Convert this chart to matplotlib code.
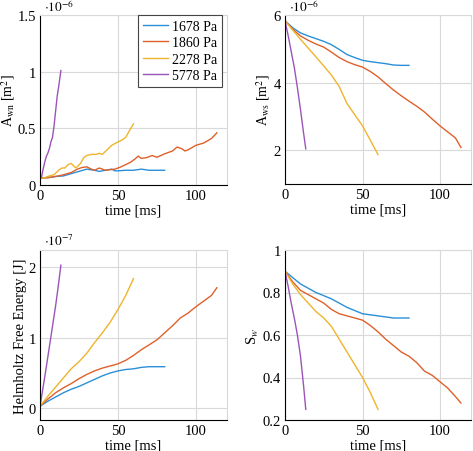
import matplotlib
matplotlib.use("Agg")
import matplotlib.pyplot as plt
import numpy as np

plt.rcParams['font.family'] = ['Liberation Serif', 'DejaVu Serif']
plt.rcParams['mathtext.fontset'] = 'stix'
plt.rcParams['font.size'] = 10.5

labels = ['1678 Pa', '1860 Pa', '2278 Pa', '5778 Pa']
colors = ['#2b8fd8', '#e0602a', '#eeb42c', '#9b55b8']

# time axes (ms)
t_1678 = [0, 5, 10, 15, 20, 25, 30, 35, 40, 45, 50, 55, 60, 65, 70, 75, 80]
t_1860 = [0, 5, 10, 15, 20, 25, 30, 35, 40, 45, 50, 55, 60, 65, 70, 75, 80, 85, 90, 95, 100, 105, 110, 113.5]
t_2278 = [0, 5, 10, 15, 20, 25, 30, 35, 40, 45, 50, 55, 60]
t_5778 = [0, 2, 4, 6, 8, 10, 12, 13.4]

# Awn (x 1e-6 m^2)
awn_t_1678 = [0, 5, 10, 15, 20, 25, 30, 35, 38, 42, 46, 48, 50, 55, 60, 65, 70, 75, 80]
awn_1678 = [0.06, 0.065, 0.075, 0.08, 0.1, 0.12, 0.14, 0.13, 0.12, 0.13, 0.14, 0.125, 0.125, 0.13, 0.13, 0.14, 0.13, 0.13, 0.13]
awn_t_1860 = [0, 5, 10, 15, 20, 24, 27, 30, 33, 35, 38, 42, 48, 52, 55, 58, 61, 63, 65, 68, 72, 75, 80, 85, 88, 91, 93, 95, 100, 105, 110, 113.5]
awn_1860 = [0.06, 0.065, 0.075, 0.09, 0.11, 0.14, 0.155, 0.16, 0.14, 0.13, 0.15, 0.13, 0.14, 0.16, 0.18, 0.20, 0.23, 0.255, 0.235, 0.24, 0.26, 0.245, 0.275, 0.30, 0.335, 0.32, 0.30, 0.31, 0.35, 0.37, 0.41, 0.46]
awn_t_2278 = [0, 3, 6, 9, 12, 14, 16, 18, 20, 23, 26, 28, 30, 33, 36, 38, 40, 43, 46, 50, 53, 55, 57, 60]
awn_2278 = [0.06, 0.065, 0.08, 0.09, 0.13, 0.15, 0.15, 0.18, 0.19, 0.15, 0.19, 0.24, 0.26, 0.27, 0.27, 0.28, 0.27, 0.31, 0.35, 0.38, 0.40, 0.42, 0.47, 0.54]
awn_t_5778 = [0, 1, 2, 3, 4, 5, 6, 7, 8, 9, 10, 11, 12, 13.4]
awn_5778 = [0.06, 0.07, 0.14, 0.2, 0.25, 0.28, 0.32, 0.38, 0.42, 0.52, 0.65, 0.78, 0.87, 1.01]

# Aws (x 1e-6 m^2)
aws_1678 = [5.83, 5.62, 5.47, 5.38, 5.30, 5.22, 5.12, 4.98, 4.83, 4.74, 4.66, 4.62, 4.59, 4.56, 4.52, 4.51, 4.51]
aws_1860 = [5.83, 5.58, 5.38, 5.25, 5.14, 5.05, 4.90, 4.74, 4.62, 4.53, 4.46, 4.33, 4.17, 3.97, 3.78, 3.61, 3.45, 3.30, 3.13, 2.92, 2.72, 2.54, 2.36, 2.08]
aws_2278 = [5.83, 5.55, 5.28, 5.02, 4.76, 4.49, 4.22, 3.88, 3.38, 3.05, 2.72, 2.30, 1.87]
aws_5778 = [5.83, 5.40, 4.92, 4.45, 3.85, 3.20, 2.50, 2.04]

# Helmholtz free energy (x 1e-7 J)
hfe_1678 = [0.03, 0.10, 0.16, 0.22, 0.27, 0.31, 0.36, 0.41, 0.46, 0.50, 0.53, 0.55, 0.56, 0.58, 0.59, 0.59, 0.59]
hfe_1860 = [0.03, 0.13, 0.22, 0.29, 0.35, 0.42, 0.48, 0.53, 0.57, 0.60, 0.63, 0.68, 0.75, 0.83, 0.90, 0.97, 1.07, 1.17, 1.28, 1.35, 1.44, 1.52, 1.60, 1.71]
hfe_2278 = [0.03, 0.17, 0.30, 0.43, 0.56, 0.66, 0.78, 0.93, 1.07, 1.22, 1.40, 1.60, 1.84]
hfe_5778 = [0.03, 0.30, 0.58, 0.87, 1.16, 1.45, 1.78, 2.03]

# Sw
sw_1678 = [0.90, 0.87, 0.84, 0.82, 0.80, 0.785, 0.77, 0.75, 0.73, 0.715, 0.70, 0.695, 0.69, 0.685, 0.68, 0.68, 0.68]
sw_1860 = [0.90, 0.85, 0.81, 0.79, 0.77, 0.75, 0.72, 0.70, 0.69, 0.68, 0.67, 0.645, 0.615, 0.58, 0.55, 0.52, 0.50, 0.47, 0.43, 0.41, 0.38, 0.35, 0.31, 0.28]
sw_2278 = [0.90, 0.84, 0.79, 0.75, 0.71, 0.68, 0.64, 0.58, 0.52, 0.46, 0.40, 0.33, 0.25]
sw_5778 = [0.90, 0.83, 0.75, 0.68, 0.60, 0.50, 0.36, 0.25]

fig = plt.figure(figsize=(4.73, 4.52), dpi=100)
W, H = 473, 452


def make_ax(l, r, t, b):
    return fig.add_axes([l / W, 1 - b / H, (r - l) / W, (b - t) / H])


ax_tl = make_ax(40, 227, 16, 186)
ax_tr = make_ax(285, 471, 16, 185)
ax_bl = make_ax(40, 227, 251, 421)
ax_br = make_ax(285, 471, 251, 421)


def style(ax):
    ax.set_xlim(0, 120)
    ax.set_xticks([0, 50, 100])
    ax.grid(True, color='#d9d9d9', linewidth=0.8)
    ax.set_axisbelow(True)
    for s in ['top', 'right']:
        ax.spines[s].set_color('#d9d9d9')
        ax.spines[s].set_linewidth(0.8)
    for s in ['left', 'bottom']:
        ax.spines[s].set_color('black')
        ax.spines[s].set_linewidth(0.8)
    ax.tick_params(length=0, pad=3)
    ax.set_xlabel('time [ms]', labelpad=1)


def offset_label(ax, txt, px_above):
    h = ax.get_position().height * H
    ax.text(0.02, 1 + px_above / h, txt, transform=ax.transAxes, ha='left',
            va='baseline', fontsize=9.5)


lw = 1.0
# top-left
ax = ax_tl
style(ax)
for tt, yy, c, lab in [(awn_t_1678, awn_1678, colors[0], labels[0]),
                        (awn_t_1860, awn_1860, colors[1], labels[1]),
                        (awn_t_2278, awn_2278, colors[2], labels[2]),
                        (awn_t_5778, awn_5778, colors[3], labels[3])]:
    ax.plot(tt, yy, color=c, lw=lw, label=lab)
ax.set_ylim(0, 1.5)
ax.set_yticks([0, 0.5, 1, 1.5])
ax.set_yticklabels(['0', '0.5', '1', '1.5'])
ax.set_ylabel(r'A$_{\mathrm{wn}}$ [m$^2$]', fontsize=10)
ax.yaxis.set_label_coords(-0.125, 0.5)
offset_label(ax, r'$\cdot10^{-6}$', 4)
leg = ax.legend(loc='upper right', fancybox=False, framealpha=1, edgecolor='#444444',
                handlelength=1.8, borderpad=0.35, labelspacing=0.25, fontsize=10,
                bbox_to_anchor=(0.975, 1.0), borderaxespad=0, handletextpad=0.3)
leg.get_frame().set_linewidth(0.8)

# top-right
ax = ax_tr
style(ax)
for tt, yy, c in [(t_1678, aws_1678, colors[0]), (t_1860, aws_1860, colors[1]),
                  (t_2278, aws_2278, colors[2]), (t_5778, aws_5778, colors[3])]:
    ax.plot(tt, yy, color=c, lw=lw)
ax.set_ylim(1, 6)
ax.set_yticks([2, 4, 6])
ax.set_ylabel(r'A$_{\mathrm{ws}}$ [m$^2$]', labelpad=1, fontsize=10)
offset_label(ax, r'$\cdot10^{-6}$', 4)

# bottom-left
ax = ax_bl
style(ax)
for tt, yy, c in [(t_1678, hfe_1678, colors[0]), (t_1860, hfe_1860, colors[1]),
                  (t_2278, hfe_2278, colors[2]), (t_5778, hfe_5778, colors[3])]:
    ax.plot(tt, yy, color=c, lw=lw)
ax.set_ylim(-0.166, 2.245)
ax.set_yticks([0, 1, 2])
ax.set_ylabel('Helmholtz Free Energy [J]', labelpad=1)
offset_label(ax, r'$\cdot10^{-7}$', 5)

# bottom-right
ax = ax_br
style(ax)
for tt, yy, c in [(t_1678, sw_1678, colors[0]), (t_1860, sw_1860, colors[1]),
                  (t_2278, sw_2278, colors[2]), (t_5778, sw_5778, colors[3])]:
    ax.plot(tt, yy, color=c, lw=lw)
ax.set_ylim(0.2, 1)
ax.set_yticks([0.2, 0.4, 0.6, 0.8, 1])
ax.set_yticklabels(['0.2', '0.4', '0.6', '0.8', '1'])
ax.set_ylabel(r'S$_w$', labelpad=1)

fig.savefig('out.png', dpi=100)
